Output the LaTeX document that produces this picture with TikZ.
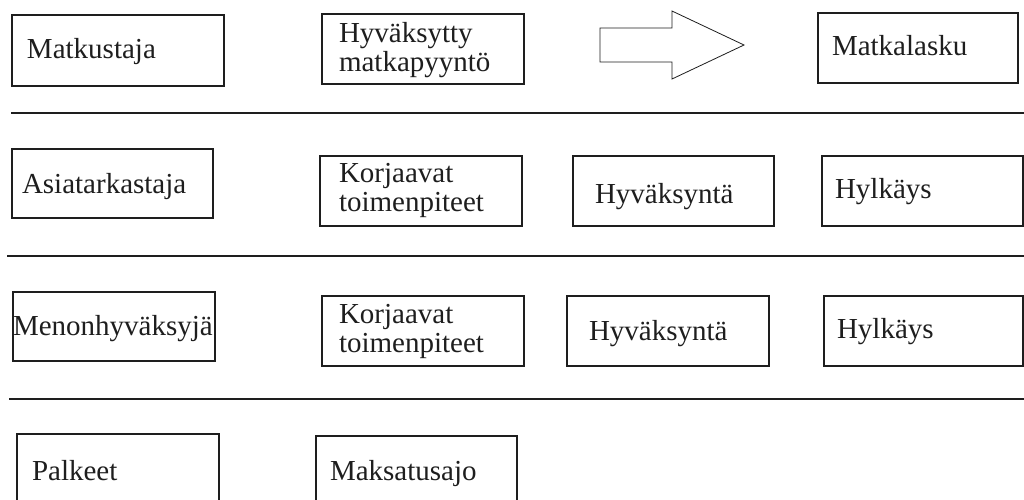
\documentclass[tikz,border=0pt]{standalone}
\usepackage{fontspec}
\setmainfont{Liberation Serif}
\usepackage{tikz}
\usetikzlibrary{positioning}
\usepackage{xcolor}
\definecolor{lnblack}{RGB}{30,30,30}
\tikzstyle{lanebox} = [draw=lnblack, line width=1.1pt, anchor=north west, outer sep=0pt, inner ysep=0pt, align=left, text=lnblack, font=\fontsize{29}{29.5}\selectfont]
\tikzstyle{oneline} = [text depth=7pt]
\tikzstyle{laneline} = [line width=1.1pt, draw=lnblack]

\begin{document}
\begin{tikzpicture}[x=1pt, y=-1pt]
\clip (0,0) rectangle (1024,499);
\fill[white] (0,0) rectangle (1024,499);

% Matkustaja
\node[lanebox, oneline, inner xsep=15pt, text width=182pt, minimum height=71pt, text height=22pt] (matkustaja) at (12,15) {Matkustaja};
\node[lanebox, inner xsep=17pt, text width=168pt, minimum height=70pt, text height=21pt, text depth=35pt] (pyynto) at (322,14) {Hyväksytty\\matkapyyntö};
\draw[line width=0.8pt, draw=lnblack] (600,28) -- (672,28) -- (672,11) -- (744,45) -- (672,79) -- (672,62) -- (600,62) -- cycle;
\node[lanebox, oneline, inner xsep=14pt, text width=172pt, minimum height=70pt, text height=21pt] (lasku) at (818,13) {Matkalasku};
\coordinate (l1a) at (11,113);
\coordinate (l1b) at (1024,113);
\draw[laneline] (l1a) -- (l1b);

% Asiatarkastaja
\node[lanebox, oneline, inner xsep=10pt, text width=181pt, minimum height=69pt, text height=26pt] (asiatark) at (12,149) {Asiatarkastaja};
\node[lanebox, inner xsep=19pt, text width=164pt, minimum height=70pt, text height=19pt, text depth=37pt] (korj1) at (320,156) {Korjaavat\\toimenpiteet};
\node[lanebox, oneline, inner xsep=22pt, text width=157pt, minimum height=70pt, text height=31pt] (hyv1) at (573,156) {Hyväksyntä};
\node[lanebox, oneline, inner xsep=13pt, text width=175pt, minimum height=70pt, text height=21pt] (hylk1) at (822,156) {Hylkäys};
\coordinate (l2a) at (7,256);
\coordinate (l2b) at (1024,256);
\draw[laneline] (l2a) -- (l2b);

% Menonhyväksyjä
\node[lanebox, oneline, inner xsep=0pt, text width=202pt, minimum height=69pt, text height=24pt] (menonhyv) at (13,292) {Menonhyväksyjä};
\node[lanebox, inner xsep=17pt, text width=168pt, minimum height=70pt, text height=20pt, text depth=36pt] (korj2) at (322,296) {Korjaavat\\toimenpiteet};
\node[lanebox, oneline, inner xsep=22pt, text width=158pt, minimum height=70pt, text height=25pt] (hyv2) at (567,296) {Hyväksyntä};
\node[lanebox, oneline, inner xsep=13pt, text width=173pt, minimum height=70pt, text height=21pt] (hylk2) at (824,296) {Hylkäys};
\coordinate (l3a) at (9,399);
\coordinate (l3b) at (1024,399);
\draw[laneline] (l3a) -- (l3b);

% Palkeet
\node[lanebox, oneline, inner xsep=15pt, text width=172pt, minimum height=80pt, text height=19pt] (palkeet) at (17,434) {Palkeet};
\node[lanebox, oneline, inner xsep=14pt, text width=173pt, minimum height=80pt, text height=16pt] (maksatus) at (316,436) {Maksatusajo};
\end{tikzpicture}
\end{document}
